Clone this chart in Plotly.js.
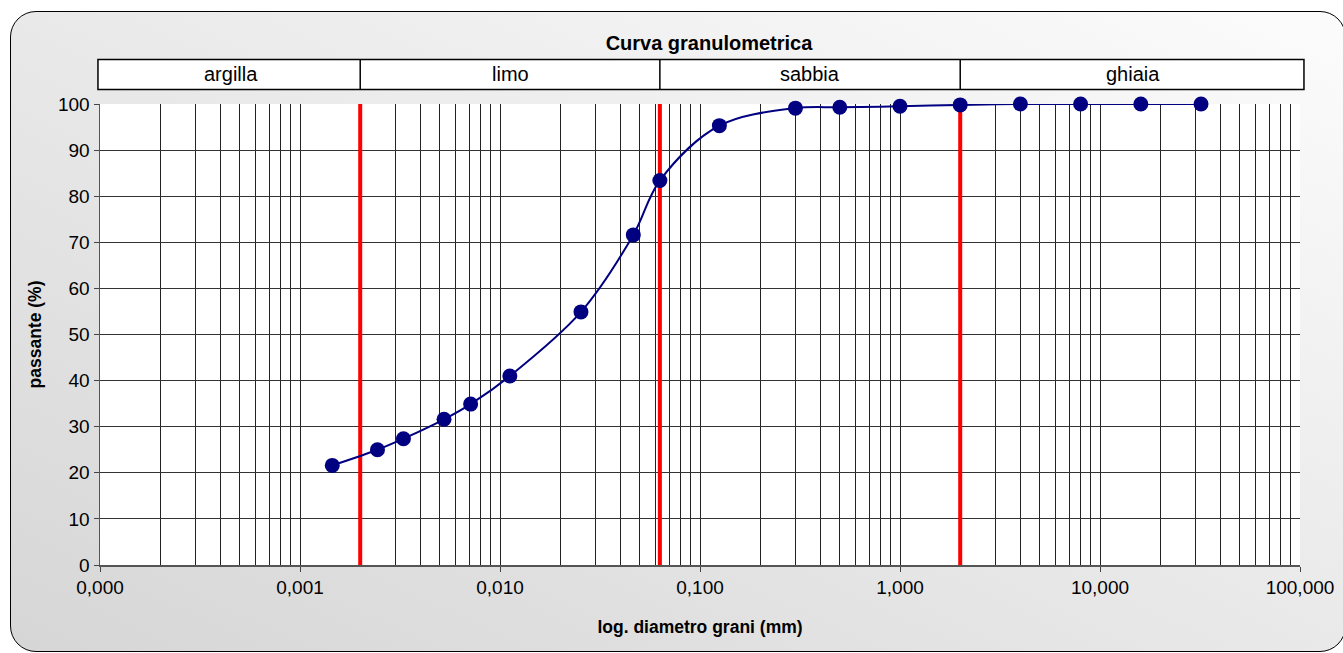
<!DOCTYPE html>
<html>
<head>
<meta charset="utf-8">
<script src="https://cdn.plot.ly/plotly-3.0.1.min.js"></script>
<style>
  html, body { margin: 0; padding: 0; background: #ffffff; }
  #wrap { position: relative; width: 1343px; height: 653px; overflow: hidden; }
  #bg { position: absolute; left: 10px; top: 11px; width: 1334px; height: 639px;
        border: 1.5px solid #000; border-radius: 26px;
        background: linear-gradient(to top right, #d6d6d6 0%, #e9e9e9 50%, #fcfcfc 100%); }
  #chart { position: absolute; left: 0; top: 0; width: 1343px; height: 653px; }
</style>
</head>
<body>
<div id="wrap"><div id="bg"></div><div id="chart"></div></div>
<script>
// ---- data ----
const diameters = [0.00145, 0.00244, 0.00329, 0.00525, 0.00713, 0.0112, 0.0254, 0.0464, 0.063, 0.125, 0.3, 0.5, 1, 2, 4, 8, 16, 32];
const passing   = [21.6, 25.0, 27.4, 31.6, 34.9, 41.0, 54.9, 71.6, 83.4, 95.3, 99.1, 99.3, 99.5, 99.8, 100, 100, 100, 100];

const classNames  = ['argilla', 'limo', 'sabbia', 'ghiaia'];
const classBounds = [0.002, 0.063, 2];           // boundaries between classes (mm)
const xTickVals   = [0.0001, 0.001, 0.01, 0.1, 1, 10, 100];
const xTickText   = ['0,000', '0,001', '0,010', '0,100', '1,000', '10,000', '100,000'];
const yTickVals   = [0, 10, 20, 30, 40, 50, 60, 70, 80, 90, 100];

// minor grid: 2..9 in every decade
const minorVals = [];
for (let i = 0; i < xTickVals.length - 1; i++) {
  for (let m = 2; m <= 9; m++) minorVals.push(xTickVals[i] * m);
}

const FONT = 'Liberation Sans, Arial, sans-serif';

const trace = {
  x: diameters, y: passing, type: 'scatter', mode: 'lines+markers',
  line: { color: '#000080', width: 2, shape: 'spline', smoothing: 1 },
  marker: { color: '#000080', size: 15 },
  hoverinfo: 'x+y', showlegend: false, cliponaxis: false
};

const xMin = xTickVals[0], xMax = xTickVals[xTickVals.length - 1];
const edges = [xMin].concat(classBounds, [xMax]);

// header band (paper coords for y)
const hy0 = 1.0315, hy1 = 1.0965;
const shapes = [];
shapes.push({ type: 'rect', xref: 'paper', yref: 'paper', x0: -0.0017, x1: 1.0033, y0: hy0, y1: hy1,
  line: { color: '#000', width: 1.5 }, fillcolor: '#ffffff', layer: 'above' });
classBounds.forEach(b => {
  shapes.push({ type: 'line', xref: 'x', yref: 'paper', x0: b, x1: b, y0: hy0, y1: hy1,
    line: { color: '#000', width: 1.5 }, layer: 'above' });
  shapes.push({ type: 'line', xref: 'x', yref: 'y', x0: b, x1: b, y0: 0, y1: 100,
    line: { color: '#ff0000', width: 4 }, layer: 'between' });
});

const annotations = [];
for (let i = 0; i < classNames.length; i++) {
  let lo = edges[i], hi = edges[i + 1];
  let xref = 'x', xv = Math.log10(Math.sqrt(lo * hi));
  if (i === classNames.length - 1) { xref = 'paper'; xv = (1133 - 100) / 1200; }
  if (i === 0) { xref = 'paper'; xv = (231 - 100) / 1200; }
  annotations.push({ text: classNames[i], xref: xref, x: xv, yref: 'paper', y: (hy0 + hy1) / 2,
    showarrow: false, xanchor: 'center', yanchor: 'middle', font: { family: FONT, size: 20, color: '#000' } });
}

const layout = {
  width: 1343, height: 653,
  margin: { l: 100, r: 43, t: 104, b: 88 },
  paper_bgcolor: 'rgba(0,0,0,0)', plot_bgcolor: '#ffffff',
  title: { text: 'Curva granulometrica', x: 709 / 1343, xanchor: 'center', y: 1 - 43 / 653, yanchor: 'middle',
           font: { family: FONT, size: 20, color: '#000', weight: 'bold' } },
  xaxis: {
    type: 'log', range: [Math.log10(xMin), Math.log10(xMax)],
    tickmode: 'array', tickvals: xTickVals, ticktext: xTickText,
    ticks: 'outside', ticklen: 5, tickcolor: '#444', tickwidth: 1,
    showline: true, linecolor: '#555', linewidth: 1.5,
    showgrid: true, gridcolor: '#222', gridwidth: 1,
    minor: { tickmode: 'array', tickvals: minorVals, showgrid: true, gridcolor: '#222', gridwidth: 1, ticks: '' },
    tickfont: { family: FONT, size: 19, color: '#000' },
    title: { text: 'log. diametro grani (mm)', standoff: 23, font: { family: FONT, size: 17.5, color: '#000', weight: 'bold' } },
    zeroline: false, fixedrange: true
  },
  yaxis: {
    range: [0, 100], tickmode: 'array', tickvals: yTickVals,
    ticks: 'outside', ticklen: 5, tickcolor: '#444',
    showline: true, linecolor: '#555', linewidth: 1.5,
    showgrid: true, gridcolor: '#333', gridwidth: 1,
    tickfont: { family: FONT, size: 19, color: '#000' },
    title: { text: 'passante (%)', standoff: 12, font: { family: FONT, size: 17.5, color: '#000', weight: 'bold' } },
    zeroline: false, fixedrange: true
  },
  shapes: shapes,
  annotations: annotations,
  showlegend: false
};

Plotly.newPlot('chart', [trace], layout, { displayModeBar: false, staticPlot: true });
</script>
</body>
</html>
